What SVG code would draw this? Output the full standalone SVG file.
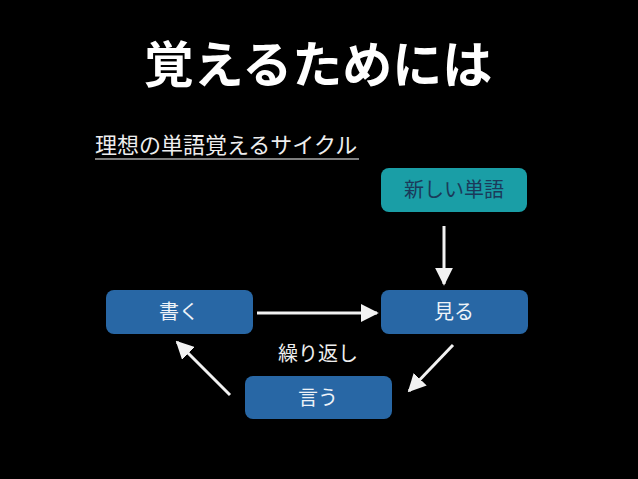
<svg xmlns="http://www.w3.org/2000/svg" width="638" height="479" viewBox="0 0 638 479">
<defs>
<style>
.jp{font-family:"Noto Sans CJK JP","Noto Sans CJK SC",sans-serif}
.box{fill:#2867a5}
.lbl{font-size:20px;fill:#eef3f8;text-anchor:middle}
.conn{stroke:#f2f2f2;stroke-width:3;fill:none}
</style>
<marker id="ah" viewBox="0 0 10 10" refX="9" refY="5" markerWidth="6" markerHeight="6" orient="auto" markerUnits="strokeWidth">
<path d="M0,0 L10,5 L0,10 z" fill="#f2f2f2"/>
</marker>
</defs>
<rect width="638" height="479" fill="#000"/>
<text x="318" y="83" class="jp" font-size="50" font-weight="bold" fill="#fff" text-anchor="middle">覚えるためには</text>
<text x="95" y="153" class="jp" font-size="22" fill="#eeeeee">理想の単語覚えるサイクル</text>
<line x1="95" y1="159" x2="359" y2="159" stroke="#aaaaaa" stroke-width="1.5"/>
<g id="new-word">
<rect x="381" y="168" width="146" height="44" rx="8" fill="#1a9ea6"/>
<text x="454" y="197" class="jp lbl" style="fill:#1b3a5a">新しい単語</text>
</g>
<g id="kaku">
<rect x="106" y="290" width="147" height="44" rx="8" class="box"/>
<text x="179" y="319" class="jp lbl">書く</text>
</g>
<g id="miru">
<rect x="381" y="290" width="147" height="44" rx="8" class="box"/>
<text x="454" y="319" class="jp lbl">見る</text>
</g>
<g id="iu">
<rect x="245" y="376" width="147" height="43" rx="8" class="box"/>
<text x="318" y="405" class="jp lbl">言う</text>
</g>
<text x="318" y="361" class="jp" font-size="20" fill="#eeeeee" text-anchor="middle">繰り返し</text>
<g id="connectors">
<line x1="444" y1="226" x2="444" y2="284" class="conn" marker-end="url(#ah)"/>
<line x1="257" y1="313" x2="377" y2="313" class="conn" marker-end="url(#ah)"/>
<line x1="453" y1="345" x2="409" y2="391" class="conn" marker-end="url(#ah)"/>
<line x1="230" y1="395" x2="177" y2="342" class="conn" marker-end="url(#ah)"/>
</g>
</svg>
